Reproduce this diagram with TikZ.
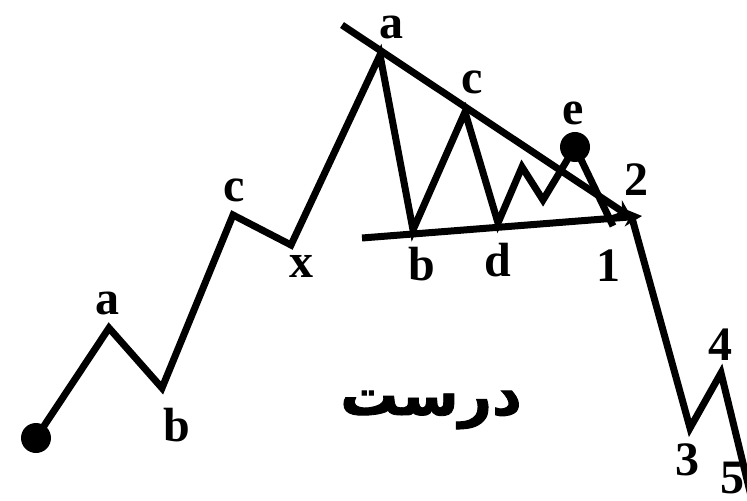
\documentclass[tikz,border=0pt]{standalone}
\usepackage{fontspec}
\setmainfont{Liberation Serif}
\newfontfamily\arabicfont[Script=Arabic, BoldFeatures={FakeBold=1.5}]{DejaVu Sans}
\TeXXeTstate=1
\usetikzlibrary{arrows.meta, positioning}

\tikzset{
  wave/.style={line width=3.5pt, line join=miter, miter limit=4},
  trend/.style={line width=3.5pt, -{Stealth[length=9pt,width=9pt]}},
  lbl/.style={font=\bfseries\fontsize{24}{24}\selectfont, inner sep=0pt},
  pivot/.style={circle, fill=black, minimum size=15pt, inner sep=0pt}
}

\begin{document}
\begin{tikzpicture}[x=0.5pt, y=-0.5pt]
  \useasboundingbox (0,0) rectangle (747,501);

  % wave points
  \coordinate (w0) at (36,438);
  \coordinate (wa) at (109,328);
  \coordinate (wb) at (162,388);
  \coordinate (wc) at (233,215);
  \coordinate (wx) at (291,245);
  \coordinate (ta) at (380,55);
  \coordinate (tb) at (413,230);
  \coordinate (tc) at (465,112);
  \coordinate (td) at (498,223);
  \coordinate (s1) at (522,167);
  \coordinate (s2) at (543,200);
  \coordinate (te) at (575,147);
  \coordinate (tf) at (613,226);
  \coordinate (apex) at (632,218);
  \coordinate (w3) at (690,428);
  \coordinate (w4) at (721,373);
  \coordinate (w5) at (752,500);

  % trend lines
  \coordinate (up0) at (342,25);
  \coordinate (lo0) at (362,238);
  \coordinate (lo1) at (642,216);
  \draw[trend] (up0) -- (apex);
  \draw[trend] (lo0) -- (lo1);

  % the wave
  \draw[wave] (w0) -- (wa) -- (wb) -- (wc) -- (wx) -- (ta) -- (tb) -- (tc)
    -- (td) -- (s1) -- (s2) -- (te) -- (tf);
  \draw[wave] (apex) -- (w3) -- (w4) -- (w5);

  \node[pivot] (start) at (w0) {};
  \node[pivot] (edot) at (te) {};

  % labels
  \node[lbl] (la) at (107,303) {a};
  \node[lbl] (lb) at (177,425) {b};
  \node[lbl] (lc) at (234,190) {c};
  \node[lbl] (lx) at (301,266) {x};
  \node[lbl] (ua) at (391,27) {a};
  \node[lbl] (uc) at (472,82) {c};
  \node[lbl] (ue) at (573,113) {e};
  \node[lbl] (ub) at (422,264) {b};
  \node[lbl] (ud) at (498,260) {d};
  \node[lbl] (n1) at (608,266) {1};
  \node[lbl] (n2) at (636,180) {2};
  \node[lbl] (n3) at (687,460) {3};
  \node[lbl] (n4) at (720,345) {4};
  \node[lbl] (n5) at (732,478) {5};

  \node[font=\arabicfont\bfseries\fontsize{29}{29}\selectfont, inner sep=0pt]
    (word) at (431,410) {\beginR درست\endR};
\end{tikzpicture}
\end{document}
